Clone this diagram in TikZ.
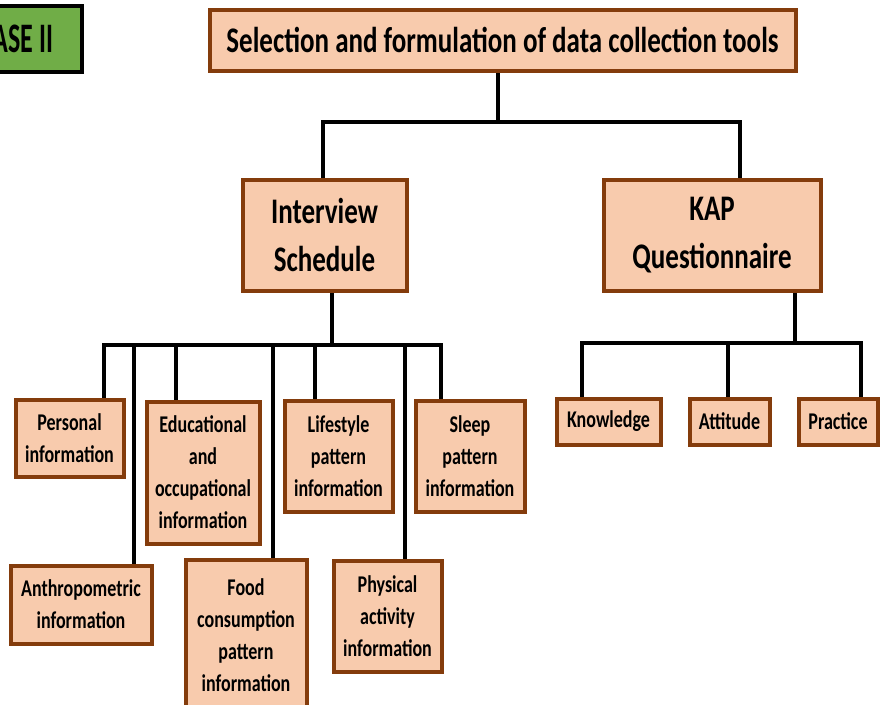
\documentclass[tikz,border=0pt]{standalone}
\usepackage{fontspec}
\setmainfont[FakeStretch=0.75]{Carlito}
\newfontfamily\phasefont[FakeStretch=0.62]{Carlito}
\usetikzlibrary{backgrounds}
\definecolor{peach}{HTML}{F8CBAD}
\definecolor{brn}{HTML}{843C0C}
\definecolor{grn}{HTML}{70AD47}
\begin{document}
\begin{tikzpicture}[x=1pt,y=-1pt,
  box/.style={draw=brn, fill=peach, line width=4pt, align=center, inner sep=0pt,
    font=\bfseries\fontsize{24}{32}\selectfont},
  bigbox/.style={box, font=\bfseries\fontsize{36}{48}\selectfont},
  conn/.style={draw=black, line width=3.2pt, line cap=rect}]
\useasboundingbox (0,0) rectangle (880,704);
% phase label
\node[draw=black, fill=grn, line width=4pt, inner xsep=29pt, minimum height=66pt,
  anchor=east, font=\phasefont\bfseries\fontsize{42}{46}\selectfont] (phase) at (84,39) {PHASE II};
% top
\node[box, font=\bfseries\fontsize{36}{40}\selectfont, minimum width=586pt, minimum height=61pt] (top) at (502.5,40) {Selection and formulation of data collection tools};
\node[bigbox, minimum width=164pt, minimum height=111pt] (int) at (324.5,235) {Interview\\Schedule};
\node[bigbox, minimum width=217pt, minimum height=111pt] (kap) at (712,235) {KAP\\Questionnaire};
% interview children
\node[box, minimum width=108pt, minimum height=77pt] (pers) at (69.5,438) {Personal\\information};
\node[box, minimum width=113pt, minimum height=142pt] (edu) at (203,472.5) {Educational\\and\\occupational\\information};
\node[box, minimum width=108pt, minimum height=111pt] (life) at (338.5,456) {Lifestyle\\pattern\\information};
\node[box, minimum width=109pt, minimum height=111pt] (sleep) at (470,456.5) {Sleep\\pattern\\information};
\node[box, minimum width=141pt, minimum height=78pt] (anth) at (81,604.5) {Anthropometric\\information};
\node[box, minimum width=121pt, minimum height=151pt] (food) at (246,635) {Food\\consumption\\pattern\\information};
\node[box, minimum width=108pt, minimum height=111pt] (phys) at (387.5,616) {Physical\\activity\\information};
% kap children
\node[box, minimum width=104pt, minimum height=46pt] (know) at (608.5,421.5) {Knowledge};
\node[box, minimum width=80pt, minimum height=46pt] (att) at (729.5,421.5) {Attitude};
\node[box, minimum width=79pt, minimum height=46pt] (prac) at (838,421.5) {Practice};
% connectors
\begin{scope}[on background layer]
\coordinate (j1) at (498,122);
\coordinate (j2) at (332,345);
\coordinate (j3) at (795,343);
\draw[conn] ([xshift=-4.5pt]top.south) -- (j1);
\draw[conn] ([xshift=-1.5pt]int.north) |- (j1);
\draw[conn] ([xshift=28pt]kap.north) |- (j1);
\draw[conn] ([xshift=7.5pt]int.south) -- (j2);
\draw[conn] ([xshift=34.5pt]pers.north) |- (j2);
\draw[conn] ([xshift=53pt]anth.north) |- (j2);
\draw[conn] ([xshift=-27pt]edu.north) |- (j2);
\draw[conn] ([xshift=27pt]food.north) |- (j2);
\draw[conn] ([xshift=-23.5pt]life.north) |- (j2);
\draw[conn] ([xshift=17.5pt]phys.north) |- (j2);
\draw[conn] ([xshift=-29pt]sleep.north) |- (j2);
\draw[conn] ([xshift=83pt]kap.south) -- (j3);
\draw[conn] ([xshift=-26.5pt]know.north) |- (j3);
\draw[conn] ([xshift=-1.5pt]att.north) |- (j3);
\draw[conn] ([xshift=23pt]prac.north) |- (j3);
\end{scope}
\end{tikzpicture}
\end{document}
